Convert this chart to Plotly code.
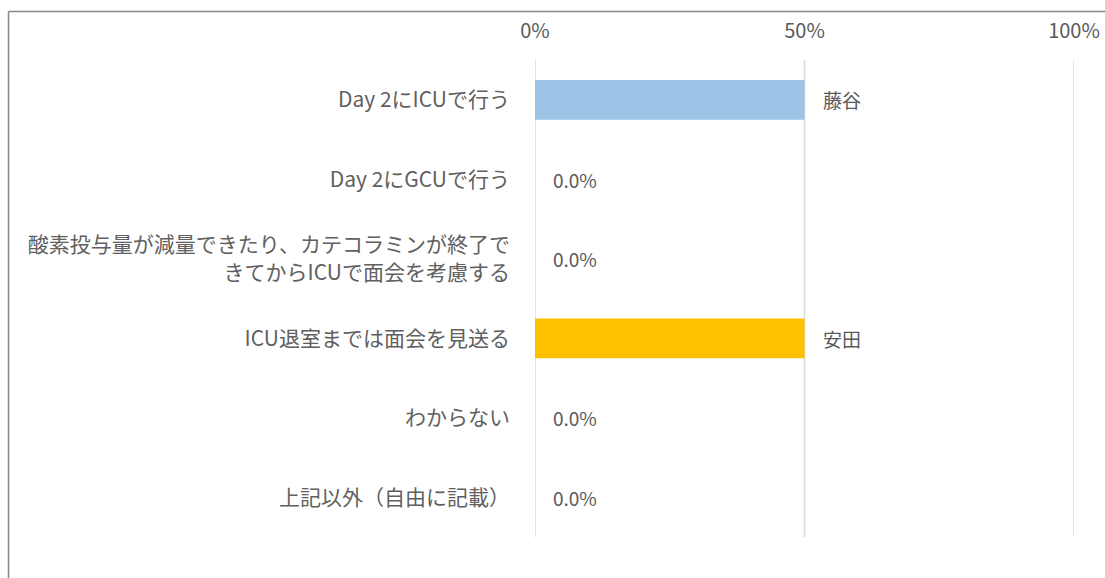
import plotly.graph_objects as go

categories = [
    "Day 2にICUで行う",
    "Day 2にGCUで行う",
    "酸素投与量が減量できたり、カテコラミンが終了で<br>きてからICUで面会を考慮する",
    "ICU退室までは面会を見送る",
    "わからない",
    "上記以外（自由に記載）",
]
values = [0.5, 0.0, 0.0, 0.5, 0.0, 0.0]
labels = ["藤谷", "0.0%", "0.0%", "安田", "0.0%", "0.0%"]
bar_colors = ["#9DC3E6", "#9DC3E6", "#9DC3E6", "#FFC000", "#9DC3E6", "#9DC3E6"]
tick_vals = [0, 0.5, 1.0]
tick_text = ["0%", "50%", "100%"]

W, H = 1105, 578
L, R, T, B = 535, 31, 60, 41
FONT = "Noto Sans CJK JP"
GRAY = "#595959"

fig = go.Figure()
fig.add_trace(go.Bar(
    y=categories, x=values, orientation="h",
    marker=dict(color=bar_colors, line=dict(width=0)),
    width=0.5, hoverinfo="skip",
))

# vertical gridlines at the tick values
for tv in tick_vals:
    fig.add_shape(type="line", xref="x", yref="paper", x0=tv, x1=tv, y0=0, y1=1,
                  line=dict(color="#D9D9D9", width=1.5), layer="below")

for c, v, t in zip(categories, values, labels):
    fig.add_annotation(
        x=v, y=c, xref="x", yref="y", text=t, showarrow=False,
        xanchor="left", yanchor="middle", xshift=16,
        font=dict(family=FONT, size=19, color=GRAY),
    )

# outer frame (partially visible in reference)
pw = W - L - R
ph = H - T - B
def px_to_paper_x(px):
    return (px - L) / pw
def py_to_paper_y(py):
    return 1 - (py - T) / ph

fig.add_shape(type="line", xref="paper", yref="paper",
              x0=px_to_paper_x(8.5), x1=px_to_paper_x(8.5),
              y0=py_to_paper_y(11.5), y1=py_to_paper_y(600),
              line=dict(color="#878787", width=1.5))
fig.add_shape(type="line", xref="paper", yref="paper",
              x0=px_to_paper_x(8.5), x1=px_to_paper_x(1120),
              y0=py_to_paper_y(11.5), y1=py_to_paper_y(11.5),
              line=dict(color="#878787", width=1.5))

fig.update_layout(
    width=W, height=H,
    margin=dict(l=L, r=R, t=T, b=B, autoexpand=False),
    paper_bgcolor="white", plot_bgcolor="white",
    showlegend=False,
    font=dict(family=FONT, size=19, color=GRAY),
    xaxis=dict(
        range=[0, 1.0], side="top", tickvals=tick_vals, ticktext=tick_text,
        showgrid=False, zeroline=False, showline=False, ticks="",
        ticklabelstandoff=17,
        tickfont=dict(family=FONT, size=20, color=GRAY),
        fixedrange=True,
    ),
    yaxis=dict(
        categoryorder="array", categoryarray=categories, autorange="reversed",
        showgrid=False, zeroline=False, showline=False, ticks="",
        ticklabelstandoff=24,
        tickfont=dict(family=FONT, size=21, color="#606060"),
        fixedrange=True,
    ),
)

fig.write_html("out.html",
               config={"displayModeBar": False},
               post_script="document.body.style.margin='0';document.body.style.overflow='hidden';")
